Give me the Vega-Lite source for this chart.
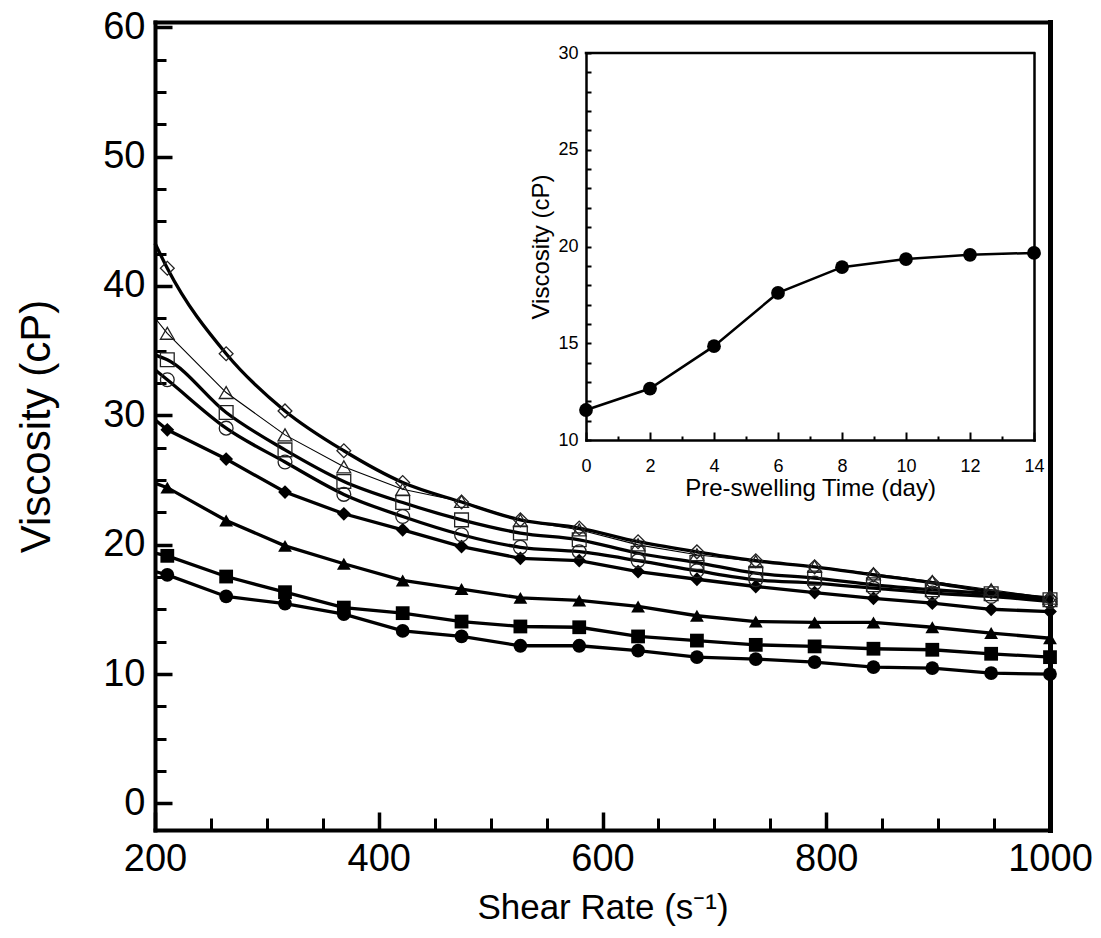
{
  "$schema": "https://vega.github.io/schema/vega-lite/v6.json",
  "width": 895,
  "height": 808,
  "autosize": {"type": "none"},
  "padding": {"left": 155, "top": 22, "right": 51, "bottom": 108},
  "background": "white",
  "config": {
    "view": {"stroke": null},
    "axis": {"grid": false, "domainColor": "black", "tickColor": "black", "labelColor": "black", "titleColor": "black", "labelFont": "Liberation Sans", "titleFont": "Liberation Sans", "titleFontWeight": "normal", "domainCap": "square"}
  },
  "datasets": {
    "curves": [
      {"day": 0, "rate": 200, "visc": 17.93, "kind": "s"},
      {"day": 0, "rate": 211, "visc": 17.67, "kind": "m"},
      {"day": 0, "rate": 263.6, "visc": 16.0, "kind": "m"},
      {"day": 0, "rate": 316.2, "visc": 15.44, "kind": "m"},
      {"day": 0, "rate": 368.8, "visc": 14.63, "kind": "m"},
      {"day": 0, "rate": 421.4, "visc": 13.34, "kind": "m"},
      {"day": 0, "rate": 474, "visc": 12.91, "kind": "m"},
      {"day": 0, "rate": 526.6, "visc": 12.19, "kind": "m"},
      {"day": 0, "rate": 579.2, "visc": 12.19, "kind": "m"},
      {"day": 0, "rate": 631.8, "visc": 11.82, "kind": "m"},
      {"day": 0, "rate": 684.4, "visc": 11.31, "kind": "m"},
      {"day": 0, "rate": 737, "visc": 11.16, "kind": "m"},
      {"day": 0, "rate": 789.6, "visc": 10.93, "kind": "m"},
      {"day": 0, "rate": 842.2, "visc": 10.54, "kind": "m"},
      {"day": 0, "rate": 894.8, "visc": 10.46, "kind": "m"},
      {"day": 0, "rate": 947.4, "visc": 10.07, "kind": "m"},
      {"day": 0, "rate": 1000, "visc": 10.0, "kind": "m"},
      {"day": 2, "rate": 200, "visc": 19.35, "kind": "s"},
      {"day": 2, "rate": 211, "visc": 19.14, "kind": "m"},
      {"day": 2, "rate": 263.6, "visc": 17.54, "kind": "m"},
      {"day": 2, "rate": 316.2, "visc": 16.33, "kind": "m"},
      {"day": 2, "rate": 368.8, "visc": 15.14, "kind": "m"},
      {"day": 2, "rate": 421.4, "visc": 14.71, "kind": "m"},
      {"day": 2, "rate": 474, "visc": 14.06, "kind": "m"},
      {"day": 2, "rate": 526.6, "visc": 13.68, "kind": "m"},
      {"day": 2, "rate": 579.2, "visc": 13.62, "kind": "m"},
      {"day": 2, "rate": 631.8, "visc": 12.91, "kind": "m"},
      {"day": 2, "rate": 684.4, "visc": 12.59, "kind": "m"},
      {"day": 2, "rate": 737, "visc": 12.26, "kind": "m"},
      {"day": 2, "rate": 789.6, "visc": 12.14, "kind": "m"},
      {"day": 2, "rate": 842.2, "visc": 11.96, "kind": "m"},
      {"day": 2, "rate": 894.8, "visc": 11.88, "kind": "m"},
      {"day": 2, "rate": 947.4, "visc": 11.57, "kind": "m"},
      {"day": 2, "rate": 1000, "visc": 11.31, "kind": "m"},
      {"day": 4, "rate": 200, "visc": 24.76, "kind": "s"},
      {"day": 4, "rate": 211, "visc": 24.41, "kind": "m"},
      {"day": 4, "rate": 263.6, "visc": 21.87, "kind": "m"},
      {"day": 4, "rate": 316.2, "visc": 19.91, "kind": "m"},
      {"day": 4, "rate": 368.8, "visc": 18.53, "kind": "m"},
      {"day": 4, "rate": 421.4, "visc": 17.24, "kind": "m"},
      {"day": 4, "rate": 474, "visc": 16.57, "kind": "m"},
      {"day": 4, "rate": 526.6, "visc": 15.89, "kind": "m"},
      {"day": 4, "rate": 579.2, "visc": 15.69, "kind": "m"},
      {"day": 4, "rate": 631.8, "visc": 15.23, "kind": "m"},
      {"day": 4, "rate": 684.4, "visc": 14.51, "kind": "m"},
      {"day": 4, "rate": 737, "visc": 14.06, "kind": "m"},
      {"day": 4, "rate": 789.6, "visc": 13.99, "kind": "m"},
      {"day": 4, "rate": 842.2, "visc": 13.99, "kind": "m"},
      {"day": 4, "rate": 894.8, "visc": 13.62, "kind": "m"},
      {"day": 4, "rate": 947.4, "visc": 13.17, "kind": "m"},
      {"day": 4, "rate": 1000, "visc": 12.77, "kind": "m"},
      {"day": 6, "rate": 200, "visc": 29.66, "kind": "s"},
      {"day": 6, "rate": 211, "visc": 28.88, "kind": "m"},
      {"day": 6, "rate": 263.6, "visc": 26.62, "kind": "m"},
      {"day": 6, "rate": 316.2, "visc": 24.07, "kind": "m"},
      {"day": 6, "rate": 368.8, "visc": 22.39, "kind": "m"},
      {"day": 6, "rate": 421.4, "visc": 21.15, "kind": "m"},
      {"day": 6, "rate": 474, "visc": 19.86, "kind": "m"},
      {"day": 6, "rate": 526.6, "visc": 18.95, "kind": "m"},
      {"day": 6, "rate": 579.2, "visc": 18.77, "kind": "m"},
      {"day": 6, "rate": 631.8, "visc": 17.92, "kind": "m"},
      {"day": 6, "rate": 684.4, "visc": 17.33, "kind": "m"},
      {"day": 6, "rate": 737, "visc": 16.77, "kind": "m"},
      {"day": 6, "rate": 789.6, "visc": 16.3, "kind": "m"},
      {"day": 6, "rate": 842.2, "visc": 15.86, "kind": "m"},
      {"day": 6, "rate": 894.8, "visc": 15.48, "kind": "m"},
      {"day": 6, "rate": 947.4, "visc": 15.01, "kind": "m"},
      {"day": 6, "rate": 1000, "visc": 14.83, "kind": "m"},
      {"day": 8, "rate": 200, "visc": 33.52, "kind": "s"},
      {"day": 8, "rate": 211, "visc": 32.75, "kind": "m"},
      {"day": 8, "rate": 263.6, "visc": 29.01, "kind": "m"},
      {"day": 8, "rate": 316.2, "visc": 26.39, "kind": "m"},
      {"day": 8, "rate": 368.8, "visc": 23.89, "kind": "m"},
      {"day": 8, "rate": 421.4, "visc": 22.18, "kind": "m"},
      {"day": 8, "rate": 474, "visc": 20.77, "kind": "m"},
      {"day": 8, "rate": 526.6, "visc": 19.8, "kind": "m"},
      {"day": 8, "rate": 579.2, "visc": 19.46, "kind": "m"},
      {"day": 8, "rate": 631.8, "visc": 18.77, "kind": "m"},
      {"day": 8, "rate": 684.4, "visc": 17.99, "kind": "m"},
      {"day": 8, "rate": 737, "visc": 17.29, "kind": "m"},
      {"day": 8, "rate": 789.6, "visc": 17.03, "kind": "m"},
      {"day": 8, "rate": 842.2, "visc": 16.64, "kind": "m"},
      {"day": 8, "rate": 894.8, "visc": 16.26, "kind": "m"},
      {"day": 8, "rate": 947.4, "visc": 16.0, "kind": "m"},
      {"day": 8, "rate": 1000, "visc": 15.61, "kind": "m"},
      {"day": 10, "rate": 200, "visc": 34.67, "kind": "s"},
      {"day": 10, "rate": 211, "visc": 34.29, "kind": "m"},
      {"day": 10, "rate": 263.6, "visc": 30.22, "kind": "m"},
      {"day": 10, "rate": 316.2, "visc": 27.33, "kind": "m"},
      {"day": 10, "rate": 368.8, "visc": 24.89, "kind": "m"},
      {"day": 10, "rate": 421.4, "visc": 23.26, "kind": "m"},
      {"day": 10, "rate": 474, "visc": 21.92, "kind": "m"},
      {"day": 10, "rate": 526.6, "visc": 20.9, "kind": "m"},
      {"day": 10, "rate": 579.2, "visc": 20.38, "kind": "m"},
      {"day": 10, "rate": 631.8, "visc": 19.34, "kind": "m"},
      {"day": 10, "rate": 684.4, "visc": 18.62, "kind": "m"},
      {"day": 10, "rate": 737, "visc": 17.8, "kind": "m"},
      {"day": 10, "rate": 789.6, "visc": 17.42, "kind": "m"},
      {"day": 10, "rate": 842.2, "visc": 16.9, "kind": "m"},
      {"day": 10, "rate": 894.8, "visc": 16.52, "kind": "m"},
      {"day": 10, "rate": 947.4, "visc": 16.21, "kind": "m"},
      {"day": 10, "rate": 1000, "visc": 15.75, "kind": "m"},
      {"day": 12, "rate": 200, "visc": 37.52, "kind": "s"},
      {"day": 12, "rate": 211, "visc": 36.34, "kind": "m"},
      {"day": 12, "rate": 263.6, "visc": 31.76, "kind": "m"},
      {"day": 12, "rate": 316.2, "visc": 28.49, "kind": "m"},
      {"day": 12, "rate": 368.8, "visc": 26.02, "kind": "m"},
      {"day": 12, "rate": 421.4, "visc": 24.29, "kind": "m"},
      {"day": 12, "rate": 474, "visc": 23.34, "kind": "m"},
      {"day": 12, "rate": 526.6, "visc": 21.87, "kind": "m"},
      {"day": 12, "rate": 579.2, "visc": 21.15, "kind": "m"},
      {"day": 12, "rate": 631.8, "visc": 19.99, "kind": "m"},
      {"day": 12, "rate": 684.4, "visc": 19.23, "kind": "m"},
      {"day": 12, "rate": 737, "visc": 18.7, "kind": "m"},
      {"day": 12, "rate": 789.6, "visc": 18.32, "kind": "m"},
      {"day": 12, "rate": 842.2, "visc": 17.75, "kind": "m"},
      {"day": 12, "rate": 894.8, "visc": 17.15, "kind": "m"},
      {"day": 12, "rate": 947.4, "visc": 16.52, "kind": "m"},
      {"day": 12, "rate": 1000, "visc": 15.87, "kind": "m"},
      {"day": 14, "rate": 200, "visc": 43.3, "kind": "s"},
      {"day": 14, "rate": 211, "visc": 41.37, "kind": "m"},
      {"day": 14, "rate": 263.6, "visc": 34.76, "kind": "m"},
      {"day": 14, "rate": 316.2, "visc": 30.34, "kind": "m"},
      {"day": 14, "rate": 368.8, "visc": 27.26, "kind": "m"},
      {"day": 14, "rate": 421.4, "visc": 24.81, "kind": "m"},
      {"day": 14, "rate": 474, "visc": 23.3, "kind": "m"},
      {"day": 14, "rate": 526.6, "visc": 21.92, "kind": "m"},
      {"day": 14, "rate": 579.2, "visc": 21.29, "kind": "m"},
      {"day": 14, "rate": 631.8, "visc": 20.23, "kind": "m"},
      {"day": 14, "rate": 684.4, "visc": 19.45, "kind": "m"},
      {"day": 14, "rate": 737, "visc": 18.76, "kind": "m"},
      {"day": 14, "rate": 789.6, "visc": 18.29, "kind": "m"},
      {"day": 14, "rate": 842.2, "visc": 17.67, "kind": "m"},
      {"day": 14, "rate": 894.8, "visc": 17.06, "kind": "m"},
      {"day": 14, "rate": 947.4, "visc": 16.36, "kind": "m"},
      {"day": 14, "rate": 1000, "visc": 15.87, "kind": "m"}
    ],
    "inset": [
      {"day": 0, "visc": 11.55},
      {"day": 2, "visc": 12.66},
      {"day": 4, "visc": 14.85},
      {"day": 6, "visc": 17.6},
      {"day": 8, "visc": 18.93},
      {"day": 10, "visc": 19.35},
      {"day": 12, "visc": 19.57},
      {"day": 14, "visc": 19.67}
    ]
  },
  "layer": [
    {
      "data": {"name": "curves"},
      "layer": [
        {
          "transform": [{"filter": "datum.day <= 6"}],
          "mark": {"type": "line", "interpolate": "linear", "strokeWidth": 3.3, "color": "black"},
          "encoding": {
            "x": {"field": "rate", "type": "quantitative", "scale": {"domain": [200, 1000], "nice": false, "zero": false},
              "axis": {"orient": "bottom", "values": [200, 400, 600, 800, 1000], "format": "d", "tickSize": -18, "tickWidth": 3.5, "domainWidth": 4, "labelFontSize": 38, "labelPadding": 28, "labelFlush": false, "labelOverlap": false, "title": "Shear Rate (s⁻¹)", "titleFontSize": 35, "titlePadding": 12}},
            "y": {"field": "visc", "type": "quantitative", "scale": {"domain": [-2.05, 60.4], "nice": false, "zero": false},
              "axis": {"orient": "left", "values": [0, 10, 20, 30, 40, 50, 60], "tickSize": -17, "tickWidth": 3.5, "domainWidth": 4, "labelFontSize": 38, "labelPadding": 27, "labelFlush": false, "labelOverlap": false, "title": "Viscosity (cP)", "titleFontSize": 42, "titlePadding": 44}},
            "detail": {"field": "day"}
          }
        },
        {
          "transform": [{"filter": "datum.day == 8 || datum.day == 10 || datum.day == 14"}],
          "mark": {"type": "line", "interpolate": "monotone", "strokeWidth": 3.3, "color": "black"},
          "encoding": {
            "x": {"field": "rate", "type": "quantitative", "axis": null},
            "y": {"field": "visc", "type": "quantitative", "axis": null},
            "detail": {"field": "day"}
          }
        },
        {
          "transform": [{"filter": "datum.day == 12"}],
          "mark": {"type": "line", "strokeWidth": 1.1, "color": "black"},
          "encoding": {
            "x": {"field": "rate", "type": "quantitative",
              "axis": {"orient": "bottom", "values": [250, 300, 350, 450, 500, 550, 650, 700, 750, 850, 900, 950], "tickSize": -12, "tickWidth": 3, "domain": false, "labels": false, "title": null}},
            "y": {"field": "visc", "type": "quantitative",
              "axis": {"orient": "left", "values": [2.5, 5, 7.5, 12.5, 15, 17.5, 22.5, 25, 27.5, 32.5, 35, 37.5, 42.5, 45, 47.5, 52.5, 55, 57.5], "tickSize": -11, "tickWidth": 3, "domain": false, "labels": false, "title": null}}
          }
        },
        {
          "transform": [{"filter": "datum.kind == 'm' && datum.day <= 6"}],
          "mark": {"type": "point", "filled": true, "size": 190, "color": "black", "opacity": 1},
          "encoding": {
            "x": {"field": "rate", "type": "quantitative",
              "axis": {"orient": "top", "domainWidth": 4, "ticks": false, "labels": false, "title": null}},
            "y": {"field": "visc", "type": "quantitative",
              "axis": {"orient": "right", "domainWidth": 5, "ticks": false, "labels": false, "title": null}},
            "shape": {"field": "day", "type": "nominal", "legend": null,
              "scale": {"domain": [0, 2, 4, 6, 8, 10, 12, 14], "range": ["circle", "square", "triangle-up", "diamond", "circle", "square", "triangle-up", "diamond"]}}
          }
        },
        {
          "transform": [{"filter": "datum.kind == 'm' && datum.day >= 8"}],
          "mark": {"type": "point", "filled": false, "size": 190, "stroke": "#222222", "strokeWidth": 1.3, "opacity": 1},
          "encoding": {
            "x": {"field": "rate", "type": "quantitative", "axis": null},
            "y": {"field": "visc", "type": "quantitative", "axis": null},
            "shape": {"field": "day", "type": "nominal", "legend": null}
          }
        }
      ],
      "resolve": {"axis": {"x": "independent", "y": "independent"}}
    },
    {
      "layer": [
        {
          "data": {"name": "inset"},
          "mark": {"type": "line", "strokeWidth": 2.5, "color": "black"},
          "encoding": {
            "x": {"field": "day", "type": "quantitative", "scale": {"domain": [0, 14], "range": [431, 879], "nice": false, "zero": false},
              "axis": {"orient": "bottom", "offset": -390, "values": [0, 2, 4, 6, 8, 10, 12, 14], "tickSize": -8, "tickWidth": 2, "domainWidth": 2.5, "labelFontSize": 18, "labelPadding": 25, "labelFlush": false, "labelOverlap": false, "title": "Pre-swelling Time (day)", "titleFontSize": 24, "titlePadding": 1}},
            "y": {"field": "visc", "type": "quantitative", "scale": {"domain": [10, 30], "range": [418, 31], "nice": false, "zero": false},
              "axis": {"orient": "left", "offset": -431, "values": [10, 11, 12, 13, 14, 15, 16, 17, 18, 19, 20, 21, 22, 23, 24, 25, 26, 27, 28, 29, 30], "labelExpr": "datum.value % 5 === 0 ? datum.label : ''", "tickSize": -5, "tickWidth": 2, "domainWidth": 2.5, "labelFontSize": 18, "labelPadding": 13, "labelFlush": false, "labelOverlap": false, "title": "Viscosity (cP)", "titleFontSize": 24, "titlePadding": 4}}
          }
        },
        {
          "data": {"name": "inset"},
          "mark": {"type": "point", "filled": true, "shape": "circle", "size": 190, "color": "black", "opacity": 1},
          "encoding": {
            "x": {"field": "day", "type": "quantitative",
              "axis": {"orient": "bottom", "offset": -390, "values": [1, 3, 5, 7, 9, 11, 13], "tickSize": -4, "tickWidth": 2, "domain": false, "labels": false, "title": null}},
            "y": {"field": "visc", "type": "quantitative",
              "axis": {"orient": "right", "offset": -16, "domainWidth": 2.5, "ticks": false, "labels": false, "title": null}}
          }
        },
        {
          "data": {"values": [{}]},
          "mark": {"type": "rule", "strokeWidth": 2.5, "color": "black", "strokeCap": "square"},
          "encoding": {
            "x": {"datum": 0, "type": "quantitative", "axis": null},
            "x2": {"datum": 14},
            "y": {"datum": 30, "type": "quantitative", "axis": null}
          }
        }
      ],
      "resolve": {"axis": {"x": "independent", "y": "independent"}}
    }
  ],
  "resolve": {"scale": {"x": "independent", "y": "independent", "shape": "independent"}}
}
